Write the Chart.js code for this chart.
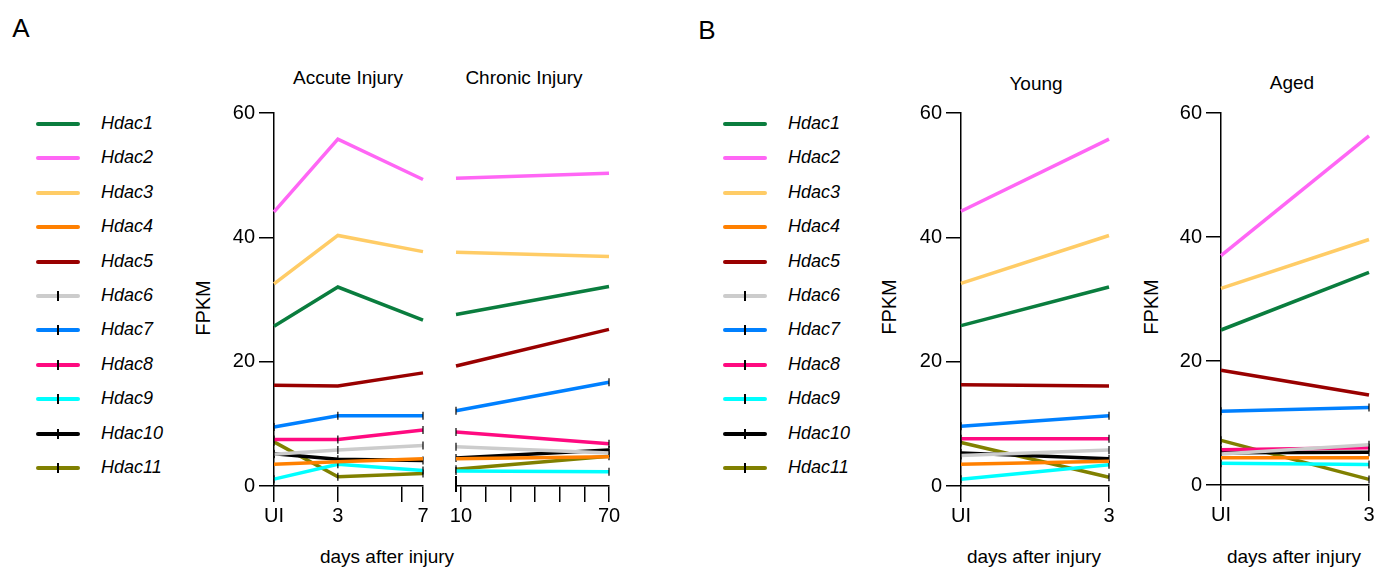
<!DOCTYPE html>
<html>

<head>
    <title>hdac_fpkm</title>
    <script src="https://cdn.jsdelivr.net/npm/chart.js"></script>
    <style>
        body {
            margin: 0;
            width: 1376px;
            height: 567px;
            position: relative;
            overflow: hidden;
            background: #fff;
            font-family: "Liberation Sans", Arial, sans-serif;
            color: #000;
        }

        canvas {
            position: absolute;
        }

        .txt {
            position: absolute;
            white-space: nowrap;
            transform: translate(-50%, -50%);
            font-size: 19px;
        }

        .rot {
            transform: translate(-50%, -50%) rotate(-90deg);
            font-size: 20px;
        }

        .panel {
            font-size: 26px;
        }

        .leg {
            position: absolute;
            height: 20px;
        }

        .leg .ln {
            position: absolute;
            top: 8px;
            left: 0;
            width: 44px;
            height: 4px;
            border-radius: 2px;
        }

        .leg .tk {
            position: absolute;
            top: 5px;
            left: 21px;
            width: 1.5px;
            height: 10px;
            background: #000;
        }

        .leg .nm {
            position: absolute;
            top: -1px;
            font-size: 18px;
            font-style: italic;
        }

        .stub {
            position: absolute;
            width: 1.5px;
            background: #000;
        }
    </style>
</head>

<body>
    <div class="txt panel" style="left:21px;top:28px">A</div>
    <div class="txt panel" style="left:707px;top:30px">B</div>

    <div class="txt" style="left:348px;top:78px">Accute Injury</div>
    <div class="txt" style="left:524px;top:78px">Chronic Injury</div>
    <div class="txt" style="left:1036px;top:84px">Young</div>
    <div class="txt" style="left:1292px;top:83px">Aged</div>

    <div class="txt rot" style="left:203px;top:308px">FPKM</div>
    <div class="txt rot" style="left:889px;top:307px">FPKM</div>
    <div class="txt rot" style="left:1151px;top:307px">FPKM</div>

    <div class="txt" style="left:387px;top:557px">days after injury</div>
    <div class="txt" style="left:1034px;top:557px">days after injury</div>
    <div class="txt" style="left:1294px;top:557px">days after injury</div>

    <div id="legendA"></div>
    <div id="legendB"></div>

    <canvas id="acute" width="262" height="430" style="left:180px;top:100px"></canvas>
    <canvas id="chronic" width="180" height="430" style="left:445px;top:100px"></canvas>
    <canvas id="young" width="230" height="430" style="left:900px;top:100px"></canvas>
    <canvas id="aged" width="216" height="430" style="left:1160px;top:100px"></canvas>

    <!-- short axis stub at the left end of the chronic x axis -->
    <div class="stub" style="left:455px;top:476px;height:16px"></div>

    <script>
        const genes = ['Hdac1', 'Hdac2', 'Hdac3', 'Hdac4', 'Hdac5', 'Hdac6', 'Hdac7', 'Hdac8', 'Hdac9', 'Hdac10', 'Hdac11'];
        const colors = ['#0a7d3e', '#ff66f5', '#ffcc66', '#ff8000', '#990000', '#cccccc', '#0080ff', '#ff0a80', '#00ffff', '#000000', '#808000'];
        // series with the small black error ticks
        const withTicks = [false, false, false, false, false, true, true, true, true, true, true];

        // x values (UI = 0)
        const acuteDays = [0, 3, 7];
        const chronicDays = [8, 70];
        const ageDays = [0, 3];

        // x tick marks and their labels
        const acuteTicks = [0, 3, 6, 7];
        const acuteTickLabels = ['UI', '3', '', '7'];
        const chronicTicks = [10, 20, 30, 40, 50, 60, 70];
        const chronicTickLabels = ['10', '', '', '', '', '', '70'];
        const ageTicks = [0, 3];
        const ageTickLabels = ['UI', '3'];

        // FPKM, one row per gene (Hdac1..Hdac11)
        const acuteValues = [
            [25.7, 32.0, 26.7],
            [44.1, 55.8, 49.3],
            [32.5, 40.3, 37.7],
            [3.5, 3.9, 4.4],
            [16.2, 16.1, 18.2],
            [5.1, 5.8, 6.5],
            [9.5, 11.3, 11.3],
            [7.5, 7.5, 9.0],
            [1.1, 3.5, 2.5],
            [5.2, 4.3, 4.1],
            [7.1, 1.5, 2.0]
        ];
        const chronicValues = [
            [27.6, 32.1],
            [49.5, 50.3],
            [37.6, 36.9],
            [4.4, 4.7],
            [19.3, 25.2],
            [6.3, 5.3],
            [12.1, 16.7],
            [8.7, 6.8],
            [2.4, 2.3],
            [4.5, 5.8],
            [2.7, 4.8]
        ];
        const youngValues = [
            [25.8, 32.0],
            [44.2, 55.8],
            [32.6, 40.3],
            [3.5, 4.0],
            [16.3, 16.1],
            [4.9, 5.8],
            [9.6, 11.3],
            [7.6, 7.6],
            [1.1, 3.4],
            [5.3, 4.4],
            [7.0, 1.4]
        ];
        const agedValues = [
            [25.0, 34.3],
            [37.0, 56.3],
            [31.7, 39.6],
            [4.4, 4.4],
            [18.5, 14.5],
            [5.0, 6.5],
            [11.9, 12.5],
            [5.7, 6.0],
            [3.5, 3.3],
            [5.2, 5.3],
            [7.2, 0.9]
        ];

        function buildLegend(id, lineLeft, textLeft) {
            const box = document.getElementById(id);
            genes.forEach((g, i) => {
                const row = document.createElement('div');
                row.className = 'leg';
                row.style.left = lineLeft + 'px';
                row.style.top = (114 + i * 34.4) + 'px';
                row.innerHTML = '<div class="ln" style="background:' + colors[i] + '"></div>' +
                    (withTicks[i] ? '<div class="tk"></div>' : '') +
                    '<div class="nm" style="left:' + (textLeft - lineLeft) + 'px">' + g + '</div>';
                box.appendChild(row);
            });
        }

        function makePanel(id, box, area, days, values, xMin, xMax, xTicks, xLabels, showY) {
            const datasets = genes.map((g, i) => ({
                label: g,
                data: days.map((d, j) => ({ x: d, y: values[i][j] })),
                borderColor: colors[i],
                borderWidth: 3.5,
                tension: 0,
                clip: 6,
                pointStyle: 'line',
                pointRotation: 90,
                pointRadius: withTicks[i] ? 4 : 0,
                pointBorderColor: '#000',
                pointBackgroundColor: '#000',
                pointBorderWidth: 1.2
            }));

            new Chart(document.getElementById(id), {
                type: 'line',
                data: { datasets: datasets },
                options: {
                    responsive: false,
                    animation: false,
                    devicePixelRatio: 1,
                    layout: {
                        padding: {
                            left: 0,
                            top: area.t - box.top,
                            right: box.left + box.width - area.r,
                            bottom: 0
                        }
                    },
                    plugins: {
                        legend: { display: false },
                        tooltip: { enabled: false }
                    },
                    scales: {
                        x: {
                            type: 'linear',
                            min: xMin,
                            max: xMax,
                            afterBuildTicks: s => { s.ticks = xTicks.map(v => ({ value: v })); },
                            afterFit: s => {
                                s.height = box.top + box.height - area.b;
                                s.paddingLeft = 0;
                                s.paddingRight = 0;
                            },
                            ticks: {
                                autoSkip: false,
                                maxRotation: 0,
                                padding: 2,
                                color: '#000',
                                font: { size: 20, family: '"Liberation Sans", Arial, sans-serif' },
                                callback: v => xLabels[xTicks.indexOf(v)] || ''
                            },
                            grid: {
                                drawOnChartArea: false,
                                drawTicks: true,
                                tickLength: 16,
                                color: '#000',
                                lineWidth: 1.5
                            },
                            border: { color: '#000', width: 1.5 }
                        },
                        y: {
                            display: showY,
                            min: 0,
                            max: 60,
                            afterFit: s => {
                                s.width = area.l - box.left;
                                s.paddingTop = 0;
                                s.paddingBottom = 0;
                            },
                            ticks: {
                                stepSize: 20,
                                padding: 4,
                                color: '#000',
                                font: { size: 20, family: '"Liberation Sans", Arial, sans-serif' }
                            },
                            grid: {
                                drawOnChartArea: false,
                                drawTicks: true,
                                tickLength: 15,
                                color: '#000',
                                lineWidth: 1.5
                            },
                            border: { color: '#000', width: 1.5 }
                        }
                    }
                }
            });
        }

        buildLegend('legendA', 36, 101);
        buildLegend('legendB', 723, 788);

        makePanel('acute', { left: 180, top: 100, width: 262, height: 430 }, { l: 274, r: 423, t: 113, b: 486 },
            acuteDays, acuteValues, 0, 7, acuteTicks, acuteTickLabels, true);
        makePanel('chronic', { left: 445, top: 100, width: 180, height: 430 }, { l: 456, r: 609, t: 113, b: 486 },
            chronicDays, chronicValues, 8, 70, chronicTicks, chronicTickLabels, false);
        makePanel('young', { left: 900, top: 100, width: 230, height: 430 }, { l: 961, r: 1109, t: 113, b: 486 },
            ageDays, youngValues, 0, 3, ageTicks, ageTickLabels, true);
        makePanel('aged', { left: 1160, top: 100, width: 216, height: 430 }, { l: 1221, r: 1369, t: 113, b: 485 },
            ageDays, agedValues, 0, 3, ageTicks, ageTickLabels, true);
    </script>
</body>

</html>
